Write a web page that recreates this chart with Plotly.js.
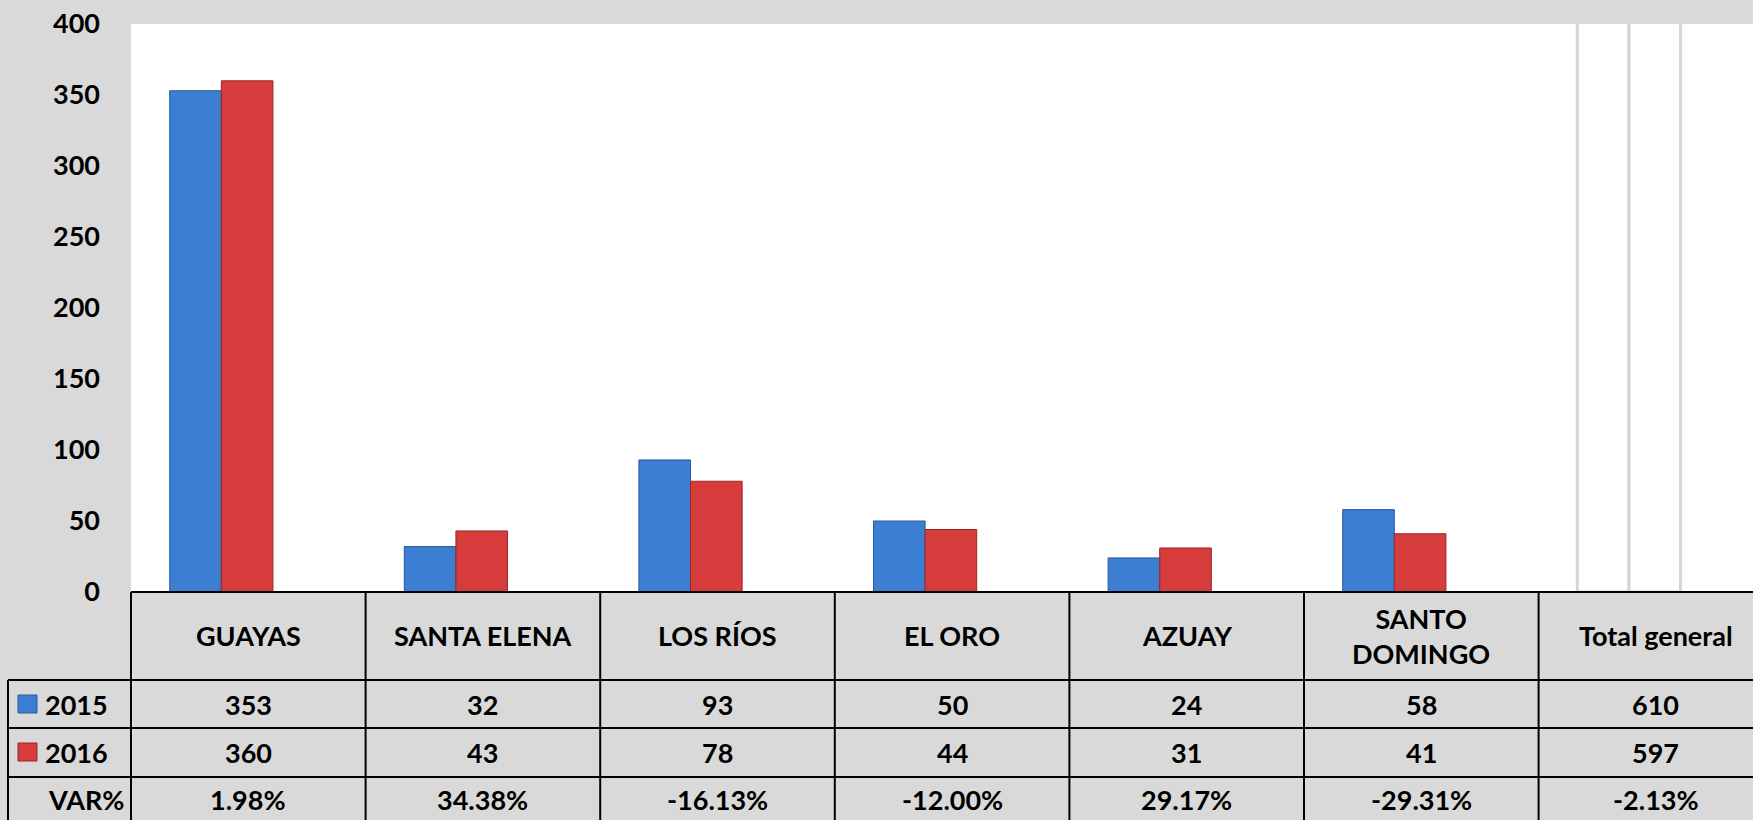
<!DOCTYPE html>
<html>
<head>
<meta charset="utf-8">
<script src="https://cdn.plot.ly/plotly-3.0.1.min.js"></script>
<style>
html,body{margin:0;padding:0;background:#d9d9d9;}
#chart{width:1753px;height:820px;}
</style>
</head>
<body>
<div id="chart"></div>
<script>
// ---- data ----
const categories = ['GUAYAS', 'SANTA ELENA', 'LOS RÍOS', 'EL ORO', 'AZUAY', 'SANTO DOMINGO', 'Total general'];
const headerLabels = ['GUAYAS', 'SANTA ELENA', 'LOS RÍOS', 'EL ORO', 'AZUAY', 'SANTO<br>DOMINGO', 'Total general'];
const seriesNames = ['2015', '2016'];
const values2015 = [353, 32, 93, 50, 24, 58, 610];
const values2016 = [360, 43, 78, 44, 31, 41, 597];
const varPct = ['1.98%', '34.38%', '-16.13%', '-12.00%', '29.17%', '-29.31%', '-2.13%'];
const varLabel = 'VAR%';
const yTicks = [0, 50, 100, 150, 200, 250, 300, 350, 400];

// ---- geometry ----
const W = 1753, H = 820;
const L = 131, T = 24, B = 592;           // plot area in px
const PW = W - L, PH = B - T;
const xr0 = -0.385, colPx = 234.6;
const xr1 = xr0 + PW / colPx;
const xp = px => (px - L) / PW;
const yp = py => (B - py) / PH;

const FONT = {family: 'Lato, "Open Sans", sans-serif', size: 27, color: '#000', weight: 'bold'};
const blue = '#3b7ed2', blueLine = '#285a9c';
const red = '#d63c3c', redLine = '#9a2626';

const totalIdx = categories.length - 1;
function colors(c) { return categories.map((_, i) => i === totalIdx ? 'rgba(255,255,255,0)' : c); }
function lcolors(c) { return categories.map((_, i) => i === totalIdx ? '#d6d6d6' : c); }
function lwidths() { return categories.map((_, i) => i === totalIdx ? 3 : 1); }

const traces = [
  {type: 'bar', name: seriesNames[0], x: categories, y: values2015,
   marker: {color: colors(blue), line: {color: lcolors(blueLine), width: lwidths()}}, hoverinfo: 'x+y'},
  {type: 'bar', name: seriesNames[1], x: categories, y: values2016,
   marker: {color: colors(red), line: {color: lcolors(redLine), width: lwidths()}}, hoverinfo: 'x+y'}
];

// ---- table ----
const rowY = [592, 680, 728, 777, 830];
const shapes = [];
const ann = [];
const lineStyle = {color: '#000', width: 2};
const nCols = categories.length;
const colLeft = k => L + k * colPx;
shapes.push({type: 'line', xref: 'paper', yref: 'paper', x0: xp(L), x1: xp(W + 10), y0: yp(rowY[0]), y1: yp(rowY[0]), line: lineStyle});
for (let r = 1; r <= 3; r++) {
  shapes.push({type: 'line', xref: 'paper', yref: 'paper', x0: xp(8), x1: xp(W + 10), y0: yp(rowY[r]), y1: yp(rowY[r]), line: lineStyle});
}
for (let k = 0; k <= nCols; k++) {
  shapes.push({type: 'line', xref: 'paper', yref: 'paper', x0: xp(colLeft(k)), x1: xp(colLeft(k)), y0: yp(rowY[0]), y1: yp(rowY[4]), line: lineStyle});
}
shapes.push({type: 'line', xref: 'paper', yref: 'paper', x0: xp(8), x1: xp(8), y0: yp(rowY[1]), y1: yp(rowY[4]), line: lineStyle});

const rowCenters = [636, 704, 752, 799];
const rows = [headerLabels, values2015.map(String), values2016.map(String), varPct];
rows.forEach((row, r) => {
  row.forEach((txt, k) => {
    ann.push({xref: 'paper', yref: 'paper', x: xp(colLeft(k) + colPx / 2), y: yp(rowCenters[r]),
      text: txt, showarrow: false, xanchor: 'center', yanchor: 'middle', font: FONT});
  });
});
[[blue, blueLine], [red, redLine]].forEach((c, i) => {
  const cy = rowCenters[i + 1];
  shapes.push({type: 'rect', xref: 'paper', yref: 'paper', x0: xp(18), x1: xp(37), y0: yp(cy - 9), y1: yp(cy + 9),
    fillcolor: c[0], line: {color: c[1], width: 1}});
  ann.push({xref: 'paper', yref: 'paper', x: xp(43), y: yp(cy), text: seriesNames[i], showarrow: false,
    xanchor: 'left', yanchor: 'middle', font: FONT});
});
ann.push({xref: 'paper', yref: 'paper', x: xp(126), y: yp(rowCenters[3]), text: varLabel, showarrow: false,
  xanchor: 'right', yanchor: 'middle', font: FONT});

const layout = {
  width: W, height: H,
  margin: {l: L, r: 0, t: T, b: H - B, pad: 0},
  paper_bgcolor: '#d9d9d9', plot_bgcolor: '#ffffff',
  showlegend: false,
  barmode: 'group', bargap: 0.56, bargroupgap: 0,
  xaxis: {type: 'category', range: [xr0, xr1], showticklabels: false, showgrid: false, zeroline: false, showline: false, ticks: ''},
  yaxis: {range: [0, 400], tickvals: yTicks, ticktext: yTicks.map(String), showgrid: false, zeroline: false, showline: false,
    ticks: '', ticklabelstandoff: 30, tickfont: FONT},
  font: FONT,
  shapes: shapes,
  annotations: ann
};

Plotly.newPlot('chart', traces, layout, {displayModeBar: false, staticPlot: true});
</script>
</body>
</html>
